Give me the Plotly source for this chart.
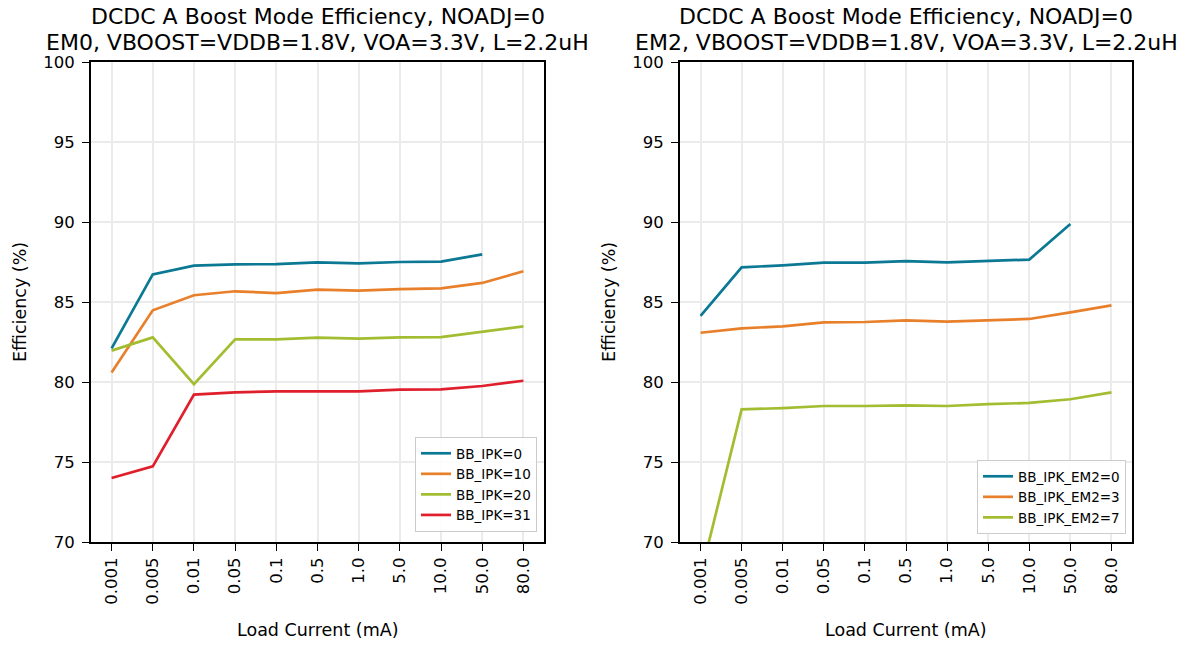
import plotly.graph_objects as go
from plotly.subplots import make_subplots

categories = ["0.001", "0.005", "0.01", "0.05", "0.1", "0.5", "1.0", "5.0", "10.0", "50.0", "80.0"]

em0_ipk0 = [82.1, 86.73, 87.27, 87.35, 87.37, 87.48, 87.42, 87.5, 87.52, 87.98, None]
em0_ipk10 = [80.6, 84.48, 85.42, 85.67, 85.56, 85.77, 85.71, 85.81, 85.85, 86.19, 86.92]
em0_ipk20 = [81.96, 82.79, 79.86, 82.67, 82.67, 82.77, 82.71, 82.79, 82.81, 83.15, 83.48]
em0_ipk31 = [74.0, 74.73, 79.21, 79.35, 79.42, 79.44, 79.42, 79.52, 79.54, 79.75, 80.08]

em2_ipk0 = [84.14, 87.17, 87.29, 87.46, 87.46, 87.56, 87.48, 87.58, 87.65, 89.88, None]
em2_ipk3 = [83.08, 83.35, 83.48, 83.73, 83.75, 83.85, 83.77, 83.87, 83.94, 84.35, 84.79]
em2_ipk7 = [67.9, 78.29, 78.37, 78.5, 78.5, 78.54, 78.5, 78.62, 78.69, 78.92, 79.35]

left_names = ["BB_IPK=0", "BB_IPK=10", "BB_IPK=20", "BB_IPK=31"]
right_names = ["BB_IPK_EM2=0", "BB_IPK_EM2=3", "BB_IPK_EM2=7"]
colors = ["#0b7894", "#e8802b", "#a3bd31", "#e01f2c"]

title_line1 = "DCDC A Boost Mode Efficiency, NOADJ=0"
title_left_line2 = "EM0, VBOOST=VDDB=1.8V, VOA=3.3V, L=2.2uH"
title_right_line2 = "EM2, VBOOST=VDDB=1.8V, VOA=3.3V, L=2.2uH"
x_label = "Load Current (mA)"
y_label = "Efficiency (%)"
y_ticks = [70, 75, 80, 85, 90, 95, 100]

FONT = "DejaVu Sans"

W, H = 1190, 646
ML, MT, MR, MB = 91, 62, 58, 104
PW = W - ML - MR
PH = H - MT - MB

fig = make_subplots(rows=1, cols=2, horizontal_spacing=0.13)

for name, vals, col in zip(left_names, [em0_ipk0, em0_ipk10, em0_ipk20, em0_ipk31], colors):
    fig.add_trace(go.Scatter(x=categories, y=vals, mode="lines", name=name,
                             line=dict(color=col, width=2.7), legend="legend",
                             connectgaps=False), row=1, col=1)
for name, vals, col in zip(right_names, [em2_ipk0, em2_ipk3, em2_ipk7], colors):
    fig.add_trace(go.Scatter(x=categories, y=vals, mode="lines", name=name,
                             line=dict(color=col, width=2.7), legend="legend2",
                             connectgaps=False), row=1, col=2)

axis_common = dict(showline=True, linecolor="black", linewidth=2, mirror=True,
                   ticks="outside", ticklen=7, tickwidth=1.3, tickcolor="black",
                   showgrid=True, gridcolor="#ebebeb", gridwidth=1.5, automargin=False,
                   tickfont=dict(family=FONT, size=16.5, color="black"), zeroline=False)

for c in (1, 2):
    fig.update_xaxes(type="category", categoryorder="array", categoryarray=categories,
                     range=[-0.5, 10.5], tickangle=-90, row=1, col=c, **axis_common)
    fig.update_yaxes(range=[70, 100], tickvals=y_ticks, ticktext=[str(v) for v in y_ticks],
                     ticklabelstandoff=4, row=1, col=c, **axis_common)

d1 = [0.0, 453 / PW]
d2 = [(680 - ML) / PW, 1.0]
fig.update_xaxes(domain=d1, row=1, col=1)
fig.update_xaxes(domain=d2, row=1, col=2)

for d, line2 in ((d1, title_left_line2), (d2, title_right_line2)):
    cx = (d[0] + d[1]) / 2
    fig.add_annotation(text=title_line1, x=cx, y=1.0, xref="paper", yref="paper",
                       xanchor="center", yanchor="middle", yshift=MT - 16, showarrow=False,
                       font=dict(family=FONT, size=22, color="black"))
    fig.add_annotation(text=line2, x=cx, y=1.0, xref="paper", yref="paper",
                       xanchor="center", yanchor="middle", yshift=MT - 42, showarrow=False,
                       font=dict(family=FONT, size=22, color="black"))
    fig.add_annotation(text=x_label, x=cx, y=0, xref="paper", yref="paper",
                       xanchor="center", yanchor="middle", yshift=-(630 - (H - MB)),
                       showarrow=False, font=dict(family=FONT, size=17.5, color="black"))
    fig.add_annotation(text=y_label, x=d[0], y=0.5, xref="paper", yref="paper",
                       xanchor="center", yanchor="middle", xshift=-(91 - 20), textangle=-90,
                       showarrow=False, font=dict(family=FONT, size=17.5, color="black"))

legend_style = dict(bgcolor="rgba(255,255,255,0.9)", bordercolor="#cccccc", borderwidth=1,
                    font=dict(family=FONT, size=13.5, color="black"),
                    xanchor="right", yanchor="bottom", tracegroupgap=0)
fig.update_layout(
    legend=dict(x=(537 - ML) / PW, y=10 / PH, **legend_style),
    legend2=dict(x=(1126 - ML) / PW, y=8 / PH, **legend_style),
)

fig.update_layout(
    width=W, height=H,
    margin=dict(l=ML, r=MR, t=MT, b=MB),
    paper_bgcolor="white", plot_bgcolor="white",
    font=dict(family=FONT, color="black"),
)

fig.write_html("out.html", config={"displayModeBar": False},
               post_script="document.body.style.margin='0';")
